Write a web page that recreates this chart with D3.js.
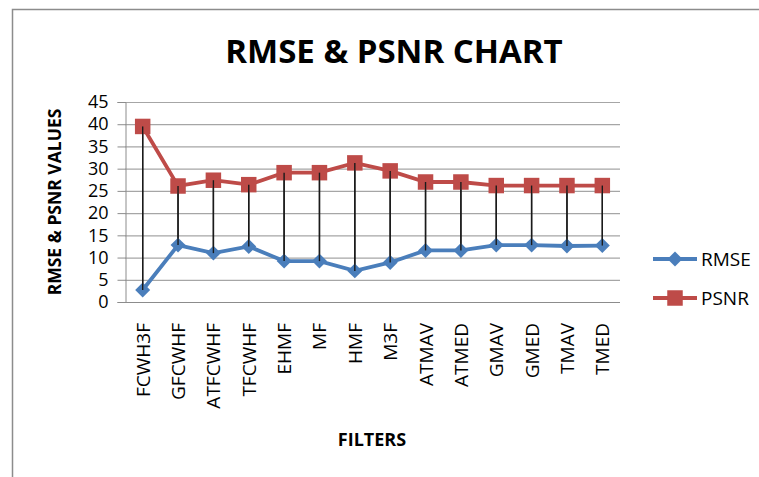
<!DOCTYPE html>
<html lang="en">
<head>
<meta charset="UTF-8">
<title>RMSE & PSNR Chart</title>
<script src="https://cdn.jsdelivr.net/npm/d3@7"></script>
<style>
  body { margin: 0; background: #fff; }
  text { font-family: "Open Sans", sans-serif; fill: #000; }
</style>
</head>
<body>
<div id="chart"></div>
<script>
// data
var filters = ["FCWH3F", "GFCWHF", "ATFCWHF", "TFCWHF", "EHMF", "MF", "HMF", "M3F",
               "ATMAV", "ATMED", "GMAV", "GMED", "TMAV", "TMED"];
var rmse = [2.7, 12.8, 11.0, 12.5, 9.2, 9.2, 7.0, 8.9, 11.6, 11.6, 12.8, 12.8, 12.6, 12.7];
var psnr = [39.5, 26.1, 27.4, 26.4, 29.1, 29.1, 31.3, 29.5, 27.0, 27.0, 26.2, 26.2, 26.2, 26.2];
var yTicks = [0, 5, 10, 15, 20, 25, 30, 35, 40, 45];

var width = 759, height = 477;
var margin = {top: 102, right: 139, bottom: 175, left: 125};

var svg = d3.select("#chart").append("svg")
    .attr("width", width)
    .attr("height", height);

// outer chart frame (runs off the bottom/right of the picture)
svg.append("rect")
    .attr("x", 12.5).attr("y", 9.5)
    .attr("width", width + 20).attr("height", height + 20)
    .attr("fill", "none")
    .attr("stroke", "#8c8c8c")
    .attr("stroke-width", 1.5);

var x = d3.scalePoint()
    .domain(filters)
    .range([margin.left, width - margin.right])
    .padding(0.5);

var y = d3.scaleLinear()
    .domain([0, 45])
    .range([height - margin.bottom, margin.top]);

// gridlines
svg.append("g")
    .selectAll("line")
    .data(yTicks)
    .enter().append("line")
    .attr("x1", margin.left).attr("x2", width - margin.right)
    .attr("y1", function(d) { return y(d) + 0.5; })
    .attr("y2", function(d) { return y(d) + 0.5; })
    .attr("stroke", "#a6a6a6")
    .attr("stroke-width", 1.2);

// y axis
var yAxis = svg.append("g")
    .attr("transform", "translate(" + (margin.left + 0.5) + ",0)")
    .call(d3.axisLeft(y).tickValues(yTicks).tickSize(8).tickPadding(9));
yAxis.select(".domain").attr("stroke", "#8c8c8c");
yAxis.selectAll(".tick line").attr("stroke", "#8c8c8c");
yAxis.selectAll("text")
    .style("font-family", "Open Sans, sans-serif")
    .style("font-size", "18px")
    .attr("fill", "#000");

// x axis line
svg.append("line")
    .attr("x1", margin.left).attr("x2", width - margin.right)
    .attr("y1", y(0) + 0.5).attr("y2", y(0) + 0.5)
    .attr("stroke", "#8c8c8c");

// category labels, rotated
svg.append("g")
    .selectAll("text")
    .data(filters)
    .enter().append("text")
    .attr("transform", function(d) { return "translate(" + (x(d) + 7) + "," + (y(0) + 21) + ") rotate(-90)"; })
    .attr("text-anchor", "end")
    .style("font-size", "19px")
    .text(function(d) { return d; });

// high-low lines
svg.append("g")
    .selectAll("line")
    .data(filters)
    .enter().append("line")
    .attr("x1", function(d) { return x(d); })
    .attr("x2", function(d) { return x(d); })
    .attr("y1", function(d, i) { return y(rmse[i]); })
    .attr("y2", function(d, i) { return y(psnr[i]); })
    .attr("stroke", "#1a1a1a")
    .attr("stroke-width", 1.4);

var line = d3.line()
    .x(function(d, i) { return x(filters[i]); })
    .y(function(d) { return y(d); });

var blue = "#4a7ebb", red = "#be4b48";

svg.append("path")
    .datum(rmse)
    .attr("d", line)
    .attr("fill", "none")
    .attr("stroke", blue)
    .attr("stroke-width", 3.8);

svg.append("path")
    .datum(psnr)
    .attr("d", line)
    .attr("fill", "none")
    .attr("stroke", red)
    .attr("stroke-width", 3.8);

var diamond = d3.symbol().type(d3.symbolSquare).size(112);
var square = d3.symbol().type(d3.symbolSquare).size(240);

svg.append("g")
    .selectAll("path")
    .data(rmse)
    .enter().append("path")
    .attr("d", diamond)
    .attr("transform", function(d, i) { return "translate(" + x(filters[i]) + "," + y(d) + ") rotate(45)"; })
    .attr("fill", blue);

svg.append("g")
    .selectAll("path")
    .data(psnr)
    .enter().append("path")
    .attr("d", square)
    .attr("transform", function(d, i) { return "translate(" + x(filters[i]) + "," + y(d) + ")"; })
    .attr("fill", red);

// re-draw the high-low lines' visible part over the markers (as in the original)
svg.append("g")
    .selectAll("line")
    .data(filters)
    .enter().append("line")
    .attr("x1", function(d) { return x(d); })
    .attr("x2", function(d) { return x(d); })
    .attr("y1", function(d, i) { return y(rmse[i]); })
    .attr("y2", function(d, i) { return y(psnr[i]); })
    .attr("stroke", "#1a1a1a")
    .attr("stroke-width", 1.4);

// title
svg.append("text")
    .attr("x", 394).attr("y", 63)
    .attr("text-anchor", "middle")
    .style("font-size", "33px")
    .style("font-weight", "bold")
    .text("RMSE & PSNR CHART");

// axis titles
svg.append("text")
    .attr("transform", "translate(61," + 202 + ") rotate(-90)")
    .attr("text-anchor", "middle")
    .style("font-size", "17.5px")
    .style("font-weight", "bold")
    .text("RMSE & PSNR VALUES");

svg.append("text")
    .attr("x", 372).attr("y", 446)
    .attr("text-anchor", "middle")
    .style("font-size", "18px")
    .style("font-weight", "bold")
    .text("FILTERS");

// legend
var legend = [
    {name: "RMSE", color: blue, ly: 259, marker: "diamond"},
    {name: "PSNR", color: red, ly: 298, marker: "square"}
];
var lg = svg.append("g").selectAll("g")
    .data(legend)
    .enter().append("g")
    .attr("transform", function(d) { return "translate(653," + d.ly + ")"; });
lg.append("line")
    .attr("x1", 0).attr("x2", 44)
    .attr("stroke", function(d) { return d.color; })
    .attr("stroke-width", 3.8);
lg.append("path")
    .attr("d", function(d) { return d.marker == "square" ? square() : diamond(); })
    .attr("transform", function(d) { return "translate(22,0)" + (d.marker == "square" ? "" : " rotate(45)"); })
    .attr("fill", function(d) { return d.color; });
lg.append("text")
    .attr("x", 48).attr("y", 7)
    .style("font-size", "19px")
    .text(function(d) { return d.name; });
</script>
</body>
</html>
